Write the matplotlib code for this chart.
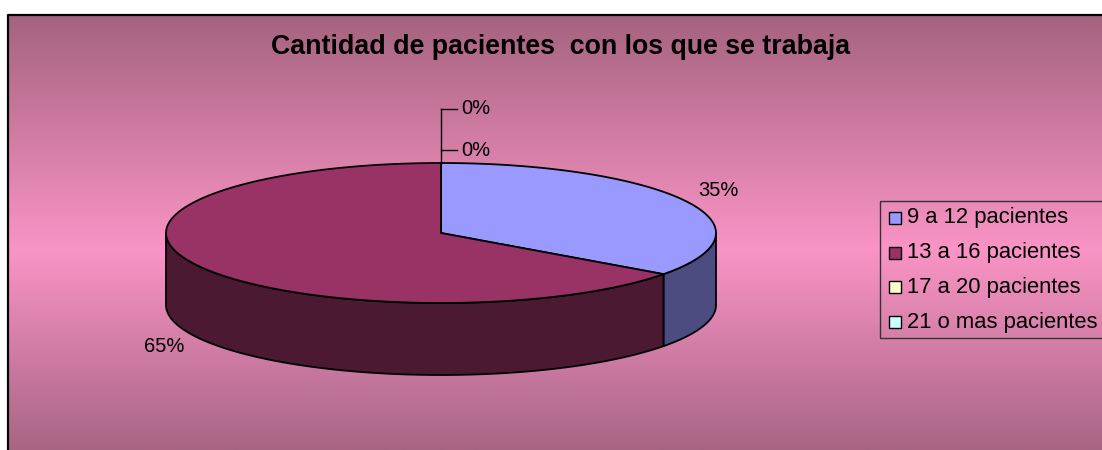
import matplotlib.pyplot as plt
import numpy as np
from matplotlib.colors import LinearSegmentedColormap
from matplotlib.patches import Polygon, Rectangle

plt.rcParams.update({"font.family": ["Liberation Sans", "DejaVu Sans"]})

title = "Cantidad de pacientes  con los que se trabaja"
categories = ["9 a 12 pacientes", "13 a 16 pacientes", "17 a 20 pacientes", "21 o mas pacientes"]
values = [35, 65, 0, 0]
top_colors = ["#9999FF", "#993366", "#FFFFCC", "#CCFFFF"]
side_colors = ["#4C4C80", "#4C1933", "#80806A", "#6A8080"]

# geometry of the 3d pie, in pixels
cx, cy = 441, 233
a, b = 275, 70
depth = 72

fig = plt.figure(figsize=(11.02, 4.5), dpi=100)
ax = fig.add_axes([0, 0, 1, 1])
ax.set_xlim(0, 1102)
ax.set_ylim(450, 0)
ax.axis("off")

# background gradient
cmap = LinearSegmentedColormap.from_list(
    "bg", [(0, "#A5637F"), (0.54, "#FA94C6"), (1, "#A76584")])
grad = np.linspace(0, 1, 256).reshape(-1, 1)
ax.imshow(grad, cmap=cmap, aspect="auto", extent=[8, 1102, 450, 15], zorder=0)
ax.plot([8, 8, 1102], [450, 15, 15], color="black", lw=1.6, zorder=1)


def ell(t, dy=0):
    return cx + a * np.cos(t), cy - b * np.sin(t) + dy


# slice angles: start at 12 o'clock, clockwise
total = sum(values)
starts, ends = [], []
ang = 90.0
for v in values:
    starts.append(ang)
    ang -= 360.0 * v / total
    ends.append(ang)

# outer walls (front half only: t in [-180, 0])
for s, e, sc in zip(starts, ends, side_colors):
    lo, hi = e, s
    for shift in (0, -360):
        l, h = max(lo, -180 + shift), min(hi, 0 + shift)
        if h - l <= 0:
            continue
        t = np.radians(np.linspace(h, l, 100))
        x1, y1 = ell(t)
        x2, y2 = ell(t[::-1], depth)
        pts = np.column_stack([np.r_[x1, x2], np.r_[y1, y2]])
        ax.add_patch(Polygon(pts, closed=True, facecolor=sc, edgecolor="black",
                             lw=1.3, joinstyle="round", zorder=2))

# top faces
for s, e, tc in zip(starts, ends, top_colors):
    if s - e <= 0:
        continue
    t = np.radians(np.linspace(s, e, 200))
    x, y = ell(t)
    pts = np.column_stack([np.r_[cx, x], np.r_[cy, y]])
    ax.add_patch(Polygon(pts, closed=True, facecolor=tc, edgecolor="black",
                         lw=1.3, joinstyle="round", zorder=3))

# percentage labels
fs = 14.5
ax.text(718, 190, f"{values[0]}%", fontsize=fs, ha="center", va="center", zorder=5)
ax.text(164, 346, f"{values[1]}%", fontsize=fs, ha="center", va="center", zorder=5)
zero_y = [109, 150]
top_y = cy - b
ax.plot([cx, cx], [top_y, zero_y[0]], color="black", lw=1.0, zorder=4)
for v, zy in zip(values[2:], zero_y):
    ax.plot([cx, 457], [zy, zy], color="black", lw=1.0, zorder=4)
    ax.text(461, zy, f"{v}%", fontsize=fs, ha="left", va="center", zorder=5)

ax.text(561, 47, title, fontsize=19.3, fontweight="bold", ha="center", va="center", zorder=5)

# legend
ax.add_patch(Rectangle((880, 201), 240, 137, facecolor="none", edgecolor="#333333",
                       lw=1.0, zorder=4))
for i, (cat, tc) in enumerate(zip(categories, top_colors)):
    yy = 218 + 34.7 * i
    ax.add_patch(Rectangle((889, yy - 6), 12, 12, facecolor=tc, edgecolor="black",
                           lw=1.0, zorder=5))
    ax.text(907, yy, cat, fontsize=15.8, ha="left", va="center", zorder=5)

fig.savefig("out.png", dpi=100)
